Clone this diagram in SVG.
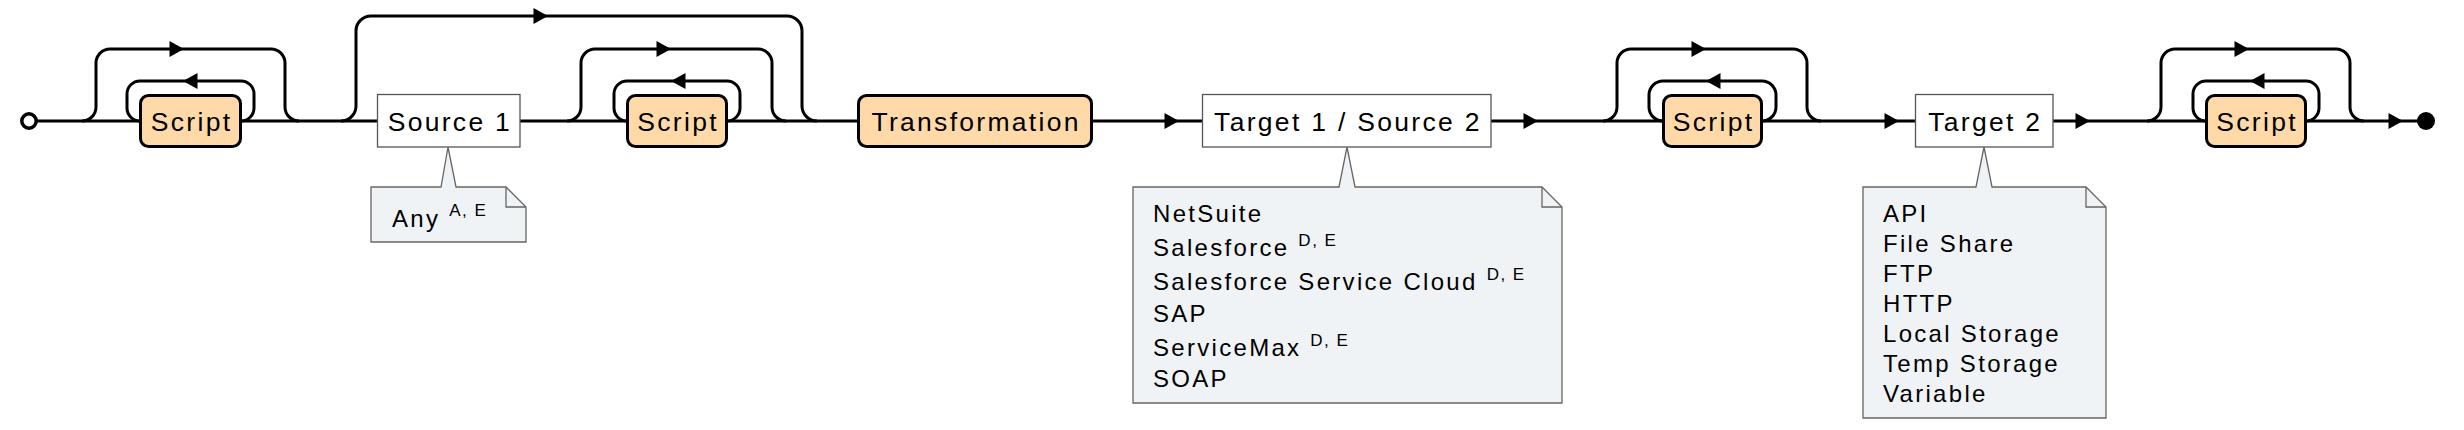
<svg xmlns="http://www.w3.org/2000/svg" width="2464" height="430" viewBox="0 0 2464 430">
<defs>
<path id="ar" d="M-14.5,-8 L0,0 L-14.5,8 Z"/>
<path id="al" d="M14.5,-8 L0,0 L14.5,8 Z"/>
</defs>
<style>
.c{fill:none;stroke:#000;stroke-width:3}
.arr{fill:#000}
.sc{fill:#FFDAA8;stroke:#000;stroke-width:3}
.bx{fill:#fff;stroke:#555;stroke-width:1.3}
.nt{fill:#F0F3F6;stroke:#666;stroke-width:1.3}
.fold{fill:none;stroke:#666;stroke-width:1.3}
.lb{font-family:"Liberation Sans",Arial,sans-serif;font-size:26.5px;letter-spacing:2.3px;fill:#000;text-anchor:middle}
.tx{font-family:"Liberation Sans",Arial,sans-serif;font-size:24px;letter-spacing:2.3px;fill:#000}
.sup{font-size:17px;letter-spacing:1.5px}
</style>
<rect width="2464" height="430" fill="#fff"/>

<g id="connectors">
  <path class="c" d="M37,121 H141 M241,121 H378 M520,121 H628 M726,121 H859 M1092,121 H1202 M1491,121 H1664 M1762,121 H1915 M2053,121 H2207 M2305,121 H2418"/>
  <path class="c" d="M82,121 A14,14 0 0 0 96,107 V63 A14,14 0 0 1 110,49 H271 A14,14 0 0 1 285,63 V107 A14,14 0 0 0 299,121"/>
  <path class="c" d="M241,121 A13,13 0 0 0 254,108 V94 A13,13 0 0 0 241,81 H140 A13,13 0 0 0 127,94 V108 A13,13 0 0 0 140,121"/>
  <path class="c" d="M341,121 A15,15 0 0 0 356,106 V31 A15,15 0 0 1 371,16 H787 A15,15 0 0 1 802,31 V106 A15,15 0 0 0 817,121"/>
  <path class="c" d="M567,121 A14,14 0 0 0 581,107 V63 A14,14 0 0 1 595,49 H758 A14,14 0 0 1 772,63 V107 A14,14 0 0 0 786,121"/>
  <path class="c" d="M727,121 A13,13 0 0 0 740,108 V94 A13,13 0 0 0 727,81 H627 A13,13 0 0 0 614,94 V108 A13,13 0 0 0 627,121"/>
  <path class="c" d="M1603,121 A14,14 0 0 0 1617,107 V63 A14,14 0 0 1 1631,49 H1793 A14,14 0 0 1 1807,63 V107 A14,14 0 0 0 1821,121"/>
  <path class="c" d="M1762,121 A14,14 0 0 0 1776,107 V95 A14,14 0 0 0 1762,81 H1663 A14,14 0 0 0 1649,95 V107 A14,14 0 0 0 1663,121"/>
  <path class="c" d="M2147,121 A14,14 0 0 0 2161,107 V63 A14,14 0 0 1 2175,49 H2336 A14,14 0 0 1 2350,63 V107 A14,14 0 0 0 2364,121"/>
  <path class="c" d="M2306,121 A13,13 0 0 0 2319,108 V94 A13,13 0 0 0 2306,81 H2206 A13,13 0 0 0 2193,94 V108 A13,13 0 0 0 2206,121"/>
  <g class="arr">
    <use href="#ar" x="184" y="49"/>
    <use href="#al" x="183" y="81"/>
    <use href="#ar" x="548" y="16"/>
    <use href="#ar" x="671" y="49"/>
    <use href="#al" x="671" y="81"/>
    <use href="#ar" x="1179" y="121"/>
    <use href="#ar" x="1538" y="121"/>
    <use href="#ar" x="1706" y="49"/>
    <use href="#al" x="1706" y="81"/>
    <use href="#ar" x="1899" y="121"/>
    <use href="#ar" x="2090" y="121"/>
    <use href="#ar" x="2249" y="49"/>
    <use href="#al" x="2250" y="81"/>
    <use href="#ar" x="2403" y="121"/>
  </g>
</g>

<g id="start"><circle cx="29" cy="121" r="7.2" fill="#fff" stroke="#000" stroke-width="3.5"/></g>

<g id="script1"><rect class="sc" x="140.5" y="95.5" width="100" height="51" rx="8"/><text class="lb" x="191.6" y="130.5">Script</text></g>

<g id="source1"><rect class="bx" x="377.5" y="94.5" width="142.5" height="52.5"/><text class="lb" x="449.9" y="130.5">Source 1</text></g>

<g id="note1">
  <path class="nt" d="M371,187 H441 L448,147 L456,187 H506 L526,207 V242 H371 Z"/>
  <path class="fold" d="M506,187 V207 H526"/>
  <text class="tx" x="392" y="227">Any <tspan class="sup" dy="-11">A, E</tspan></text>
</g>

<g id="script2"><rect class="sc" x="627.5" y="95.5" width="99" height="51" rx="8"/><text class="lb" x="678.1" y="130.5">Script</text></g>

<g id="transformation"><rect class="sc" x="858.5" y="95.5" width="233" height="51" rx="8"/><text class="lb" x="976.1" y="130.5">Transformation</text></g>

<g id="target1"><rect class="bx" x="1202.5" y="94.5" width="288.5" height="52.5"/><text class="lb" x="1347.9" y="130.5">Target 1 / Source 2</text></g>

<g id="note2">
  <path class="nt" d="M1133,187 H1339 L1347,147 L1355,187 H1542 L1562,207 V403 H1133 Z"/>
  <path class="fold" d="M1542,187 V207 H1562"/>
  <text class="tx" x="1153" y="222">NetSuite</text>
  <text class="tx" x="1153" y="256">Salesforce <tspan class="sup" dy="-10">D, E</tspan></text>
  <text class="tx" x="1153" y="290">Salesforce Service Cloud <tspan class="sup" dy="-10">D, E</tspan></text>
  <text class="tx" x="1153" y="322">SAP</text>
  <text class="tx" x="1153" y="356">ServiceMax <tspan class="sup" dy="-10">D, E</tspan></text>
  <text class="tx" x="1153" y="387">SOAP</text>
</g>

<g id="script3"><rect class="sc" x="1663.5" y="95.5" width="98" height="51" rx="8"/><text class="lb" x="1713.6" y="130.5">Script</text></g>

<g id="target2"><rect class="bx" x="1915.5" y="94.5" width="137.5" height="52.5"/><text class="lb" x="1985.3" y="130.5">Target 2</text></g>

<g id="note3">
  <path class="nt" d="M1863,187 H1976 L1984,147 L1992,187 H2086 L2106,207 V418 H1863 Z"/>
  <path class="fold" d="M2086,187 V207 H2106"/>
  <text class="tx" x="1883" y="222">API</text>
  <text class="tx" x="1883" y="252">File Share</text>
  <text class="tx" x="1883" y="282">FTP</text>
  <text class="tx" x="1883" y="312">HTTP</text>
  <text class="tx" x="1883" y="342">Local Storage</text>
  <text class="tx" x="1883" y="372">Temp Storage</text>
  <text class="tx" x="1883" y="402">Variable</text>
</g>

<g id="script4"><rect class="sc" x="2206.5" y="95.5" width="99" height="51" rx="8"/><text class="lb" x="2257.1" y="130.5">Script</text></g>

<g id="end"><circle cx="2426" cy="121" r="9" fill="#000"/></g>
</svg>
